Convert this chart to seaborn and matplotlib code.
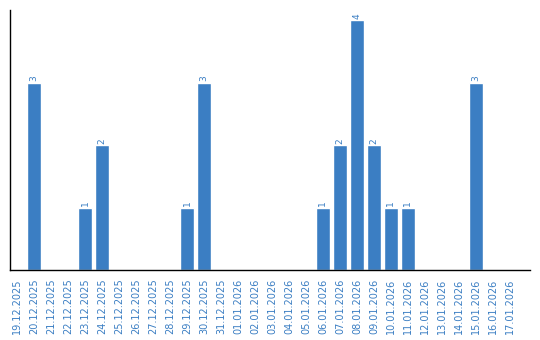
import matplotlib
matplotlib.use("Agg")
import matplotlib.pyplot as plt
import seaborn as sns
import pandas as pd

dates = ["19.12.2025", "20.12.2025", "21.12.2025", "22.12.2025", "23.12.2025",
         "24.12.2025", "25.12.2025", "26.12.2025", "27.12.2025", "28.12.2025",
         "29.12.2025", "30.12.2025", "31.12.2025", "01.01.2026", "02.01.2026",
         "03.01.2026", "04.01.2026", "05.01.2026", "06.01.2026", "07.01.2026",
         "08.01.2026", "09.01.2026", "10.01.2026", "11.01.2026", "12.01.2026",
         "13.01.2026", "14.01.2026", "15.01.2026", "16.01.2026", "17.01.2026"]
counts = [0, 3, 0, 0, 1, 2, 0, 0, 0, 0, 1, 3, 0, 0, 0,
          0, 0, 0, 1, 2, 4, 2, 1, 1, 0, 0, 0, 3, 0, 0]

color = "#3b7ec3"
df = pd.DataFrame({"date": dates, "count": counts})

sns.set_style("white")
plt.rcParams['font.family'] = ['DejaVu Sans']
fig = plt.figure(figsize=(5.4, 3.4), dpi=100)
ax = fig.add_axes([10/540, 70/340, 520/540, 260/340])
sns.barplot(data=df, x="date", y="count", color=color, saturation=1, width=0.82, ax=ax)

labels = [str(v) if v > 0 else "" for v in counts]
ax.bar_label(ax.containers[0], labels=labels, rotation=90, fontsize=6.5, color=color, padding=1)

ax.set_ylim(0, 4.16)
ax.set_xlim(-0.41, 30.18)
ax.set_xlabel("")
ax.set_ylabel("")
ax.set_yticks([])
ax.tick_params(axis="x", labelrotation=90, labelsize=7, labelcolor=color, length=0, pad=6)
for s in ["top", "right"]:
    ax.spines[s].set_visible(False)
for s in ["left", "bottom"]:
    ax.spines[s].set_color("black")
    ax.spines[s].set_linewidth(1)
fig.savefig("out.png", dpi=100)
